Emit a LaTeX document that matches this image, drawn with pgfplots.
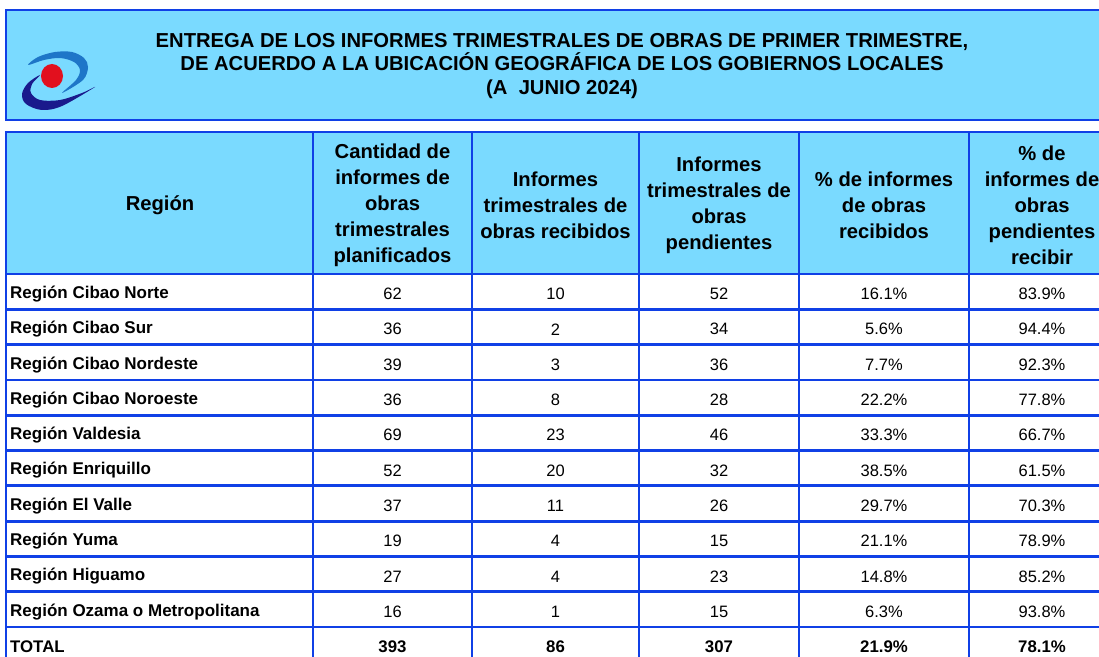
\documentclass[border=0pt]{standalone}
\usepackage{pgfplots}
\usepackage{pgfplotstable}
\pgfplotsset{compat=1.18}
\usepackage{fontspec}
\setmainfont{Liberation Sans}
\definecolor{hdr}{RGB}{122,218,255}
\definecolor{bord}{RGB}{16,64,230}
\definecolor{swa}{RGB}{30,118,200}
\definecolor{swb}{RGB}{26,26,140}
\definecolor{logored}{RGB}{226,16,30}

\pgfplotstableread[col sep=comma]{
name,y,plan,rec,pend,prec,ppend
Región Cibao Norte,294.0,62,10,52,16.1,83.9
Región Cibao Sur,329.3,36,2,34,5.6,94.4
Región Cibao Nordeste,364.6,39,3,36,7.7,92.3
Región Cibao Noroeste,399.9,36,8,28,22.2,77.8
Región Valdesia,435.2,69,23,46,33.3,66.7
Región Enriquillo,470.5,52,20,32,38.5,61.5
Región El Valle,505.8,37,11,26,29.7,70.3
Región Yuma,541.1,19,4,15,21.1,78.9
Región Higuamo,576.4,27,4,23,14.8,85.2
Región Ozama o Metropolitana,611.7,16,1,15,6.3,93.8
}\datatable

\pgfplotstableread[col sep=comma]{
name,y,plan,rec,pend,prec,ppend
TOTAL,647.0,393,86,307,21.9,78.1
}\totaltable

\begin{document}
\begin{tikzpicture}
\begin{axis}[
  hide axis, scale only axis,
  width=1099bp, height=657bp,
  xmin=0, xmax=1099, ymin=0, ymax=657,
  y dir=reverse,
  clip=true,
  every node near coord/.append style={font=\fontsize{16.5bp}{19bp}\selectfont, inner sep=0pt, text=black},
]
\path (axis cs:0,0) rectangle (axis cs:1099,657);
% title band
\fill[hdr] (axis cs:6,10) rectangle (axis cs:1130,120);
\draw[bord, line width=2.8bp] (axis cs:6,10) rectangle (axis cs:1130,120);
% header band
\fill[hdr] (axis cs:6,132) rectangle (axis cs:1130,274);
% grid
\draw[bord, line width=2.8bp] (axis cs:6,132) rectangle (axis cs:1130,700);
\pgfplotsinvokeforeach{274,309.3,344.6,379.9,415.2,450.5,485.8,521.1,556.4,591.7,627.0}{
  \draw[bord, line width=2.8bp] (axis cs:6,#1) -- (axis cs:1130,#1);
}
\pgfplotsinvokeforeach{313,472,639,799,969}{
  \draw[bord, line width=2.8bp] (axis cs:#1,132) -- (axis cs:#1,700);
}
% logo
\fill[swa] plot[smooth cycle, tension=0.55] coordinates {(28,65) (38,57) (55,52) (72,52) (84,58) (88,67) (83,80) (62,93) (76,80) (80,70) (74,62) (60,58) (44,60)};
\fill[swb] plot[smooth cycle, tension=0.55] coordinates {(40,75) (28,83) (22,94) (26,104) (42,110) (62,106) (95,87) (82,93) (60,100) (40,100) (31,93) (32,84)};
\fill[logored] (axis cs:52,76) ellipse [x radius=11, y radius=12];
% title
\node[align=center, font=\fontsize{20.2bp}{23.5bp}\selectfont\bfseries] at (axis cs:562,66)
  {ENTREGA DE LOS INFORMES TRIMESTRALES DE OBRAS DE PRIMER TRIMESTRE,\\
   DE ACUERDO A LA UBICACIÓN GEOGRÁFICA DE LOS GOBIERNOS LOCALES\\
   (A\ \ JUNIO 2024)};
% header texts
\begin{scope}[every node/.style={align=center, font=\fontsize{20.2bp}{26bp}\selectfont\bfseries}]
\node at (axis cs:160,205) {Región};
\node at (axis cs:392.5,205) {Cantidad de\\informes de\\obras\\trimestrales\\planificados};
\node at (axis cs:555.5,205) {Informes\\trimestrales de\\obras recibidos};
\node at (axis cs:719,205) {Informes\\trimestrales de\\obras\\pendientes};
\node at (axis cs:884,205) {\% de informes\\de obras\\recibidos};
\node at (axis cs:1042,205) {\% de\\informes de\\obras\\pendientes\\recibir};
\end{scope}
% data
\addplot[draw=none, nodes near coords, point meta=explicit symbolic, nodes near coords align={anchor=west},
  every node near coord/.append style={font=\fontsize{17bp}{19bp}\selectfont\bfseries}]
  table[x expr=10, y=y, meta=name] {\datatable};
\addplot[draw=none, nodes near coords, point meta=explicit symbolic, nodes near coords align={anchor=center}]
  table[x expr=392.5, y=y, meta=plan] {\datatable};
\addplot[draw=none, nodes near coords, point meta=explicit symbolic, nodes near coords align={anchor=center}]
  table[x expr=555.5, y=y, meta=rec] {\datatable};
\addplot[draw=none, nodes near coords, point meta=explicit symbolic, nodes near coords align={anchor=center}]
  table[x expr=719, y=y, meta=pend] {\datatable};
\addplot[draw=none, nodes near coords={\pgfplotspointmeta\%}, point meta=explicit symbolic, nodes near coords align={anchor=center}]
  table[x expr=884, y=y, meta=prec] {\datatable};
\addplot[draw=none, nodes near coords={\pgfplotspointmeta\%}, point meta=explicit symbolic, nodes near coords align={anchor=center}]
  table[x expr=1042, y=y, meta=ppend] {\datatable};
% total row
\begin{scope}[every node near coord/.append style={font=\fontsize{16.8bp}{19bp}\selectfont\bfseries}]
\addplot[draw=none, nodes near coords, point meta=explicit symbolic, nodes near coords align={anchor=west}]
  table[x expr=10, y=y, meta=name] {\totaltable};
\addplot[draw=none, nodes near coords, point meta=explicit symbolic, nodes near coords align={anchor=center}]
  table[x expr=392.5, y=y, meta=plan] {\totaltable};
\addplot[draw=none, nodes near coords, point meta=explicit symbolic, nodes near coords align={anchor=center}]
  table[x expr=555.5, y=y, meta=rec] {\totaltable};
\addplot[draw=none, nodes near coords, point meta=explicit symbolic, nodes near coords align={anchor=center}]
  table[x expr=719, y=y, meta=pend] {\totaltable};
\addplot[draw=none, nodes near coords={\pgfplotspointmeta\%}, point meta=explicit symbolic, nodes near coords align={anchor=center}]
  table[x expr=884, y=y, meta=prec] {\totaltable};
\addplot[draw=none, nodes near coords={\pgfplotspointmeta\%}, point meta=explicit symbolic, nodes near coords align={anchor=center}]
  table[x expr=1042, y=y, meta=ppend] {\totaltable};
\end{scope}
\end{axis}
\end{tikzpicture}
\end{document}
